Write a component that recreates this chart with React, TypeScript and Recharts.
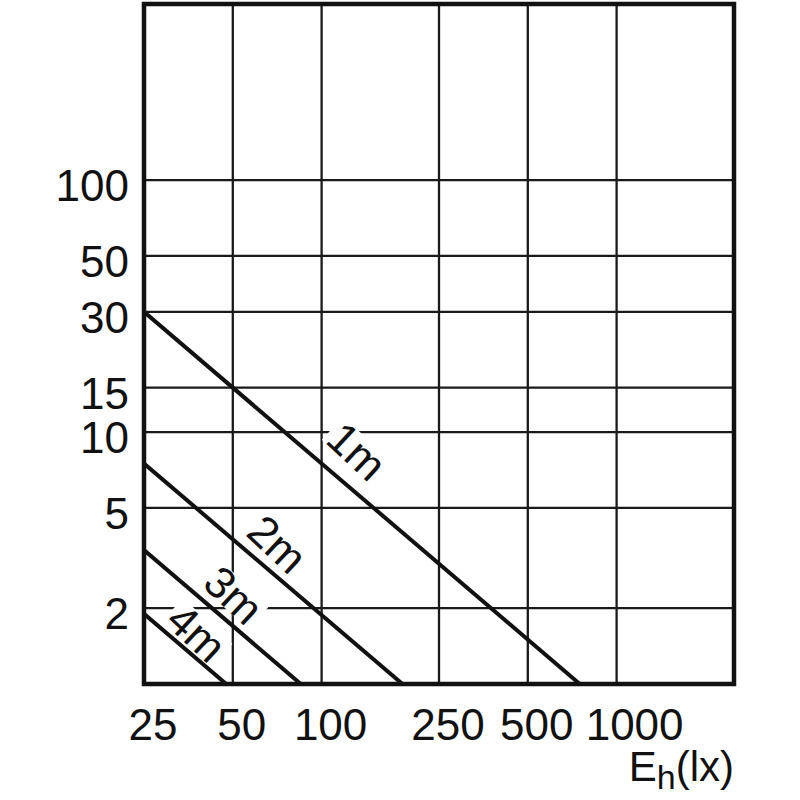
import React from 'react';
import { CartesianGrid, Line, LineChart, ReferenceArea, ReferenceDot, XAxis, YAxis } from 'recharts';

// illuminance ticks (lx) and distance ticks
const ehTicks = [25, 50, 100, 250, 500, 1000];
const dTicks = [2, 5, 10, 15, 30, 50, 100];

// one line per mounting height
const line1m = [{ eh: 25, d: 30 }, { eh: 750, d: 1 }];
const line2m = [{ eh: 25, d: 7.5 }, { eh: 188, d: 1 }];
const line3m = [{ eh: 25, d: 3.4 }, { eh: 85, d: 1 }];
const line4m = [{ eh: 25, d: 1.9 }, { eh: 47.5, d: 1 }];

// where the "Xm" labels sit
const labelText = ['1m', '2m', '3m', '4m'];
const labelEh = [132, 71, 50.5, 37.8];
const labelD = [8.4, 3.6, 2.26, 1.6];

const FONT = '"Liberation Sans", Arial, sans-serif';
const INK = '#111';

const XTick = (props: any) => {
  const { x, y, payload } = props;
  const dx = payload.value === 1000 ? 18 : 9;
  return (
    <text x={x + dx} y={y} dy={56} textAnchor="middle" fontSize={44} fontFamily={FONT} fill={INK}>
      {payload.value}
    </text>
  );
};

const YTick = (props: any) => {
  const { x, y, payload } = props;
  return (
    <text x={x} y={y} dy={21} textAnchor="end" fontSize={44} fontFamily={FONT} fill={INK}>
      {payload.value}
    </text>
  );
};

const AxisTitle = (props: any) => {
  const vb = props.viewBox;
  return (
    <text x={vb.x + vb.width} y={vb.y + 97} textAnchor="end" fontSize={42} fontFamily={FONT} fill={INK}>
      <tspan>E</tspan>
      <tspan fontSize={34} dy={8}>h</tspan>
      <tspan dy={-8}>(lx)</tspan>
    </text>
  );
};

const heightLabel = (text: string) => (props: any) => {
  const { cx, cy } = props;
  const fs = 44;
  const w = fs * 1.39;
  return (
    <g transform={`translate(${cx},${cy}) rotate(43)`}>
      <rect x={-w / 2 - 3} y={-fs * 0.36} width={w + 6} height={fs * 0.72} fill="#fff" />
      <text x={0} y={0} dy={fs * 0.36} textAnchor="middle" fontSize={fs} fontFamily={FONT} fill={INK}>
        {text}
      </text>
    </g>
  );
};

export default function App() {
  const lines = [line1m, line2m, line3m, line4m];
  return (
    <div style={{ position: 'absolute', left: 0, top: 0, background: '#fff' }}>
      <LineChart width={800} height={800} margin={{ top: 4, right: 66, bottom: 0, left: 0 }}>
        <CartesianGrid stroke="#1a1a1a" strokeWidth={2.3} horizontalValues={dTicks} verticalValues={ehTicks} />
        <XAxis
          dataKey="eh"
          type="number"
          scale="log"
          domain={[25, 2500]}
          allowDataOverflow
          ticks={ehTicks}
          interval={0}
          height={116}
          axisLine={false}
          tickLine={false}
          tickSize={0}
          tickMargin={0}
          tick={<XTick />}
          label={{ content: <AxisTitle /> }}
        />
        <YAxis
          type="number"
          scale="log"
          domain={[1, 500]}
          allowDataOverflow
          ticks={dTicks}
          interval={0}
          width={144}
          axisLine={false}
          tickLine={false}
          tickSize={0}
          tickMargin={15}
          tick={<YTick />}
        />
        {lines.map((data, i) => (
          <Line
            key={i}
            data={data}
            dataKey="d"
            type="linear"
            stroke={INK}
            strokeWidth={4}
            dot={false}
            isAnimationActive={false}
          />
        ))}
        {labelText.map((t, i) => (
          <ReferenceDot key={t} x={labelEh[i]} y={labelD[i]} r={0} shape={heightLabel(t)} />
        ))}
        <ReferenceArea x1={25} x2={2500} y1={1} y2={500} fill="none" stroke={INK} strokeWidth={4.5} />
      </LineChart>
    </div>
  );
}
